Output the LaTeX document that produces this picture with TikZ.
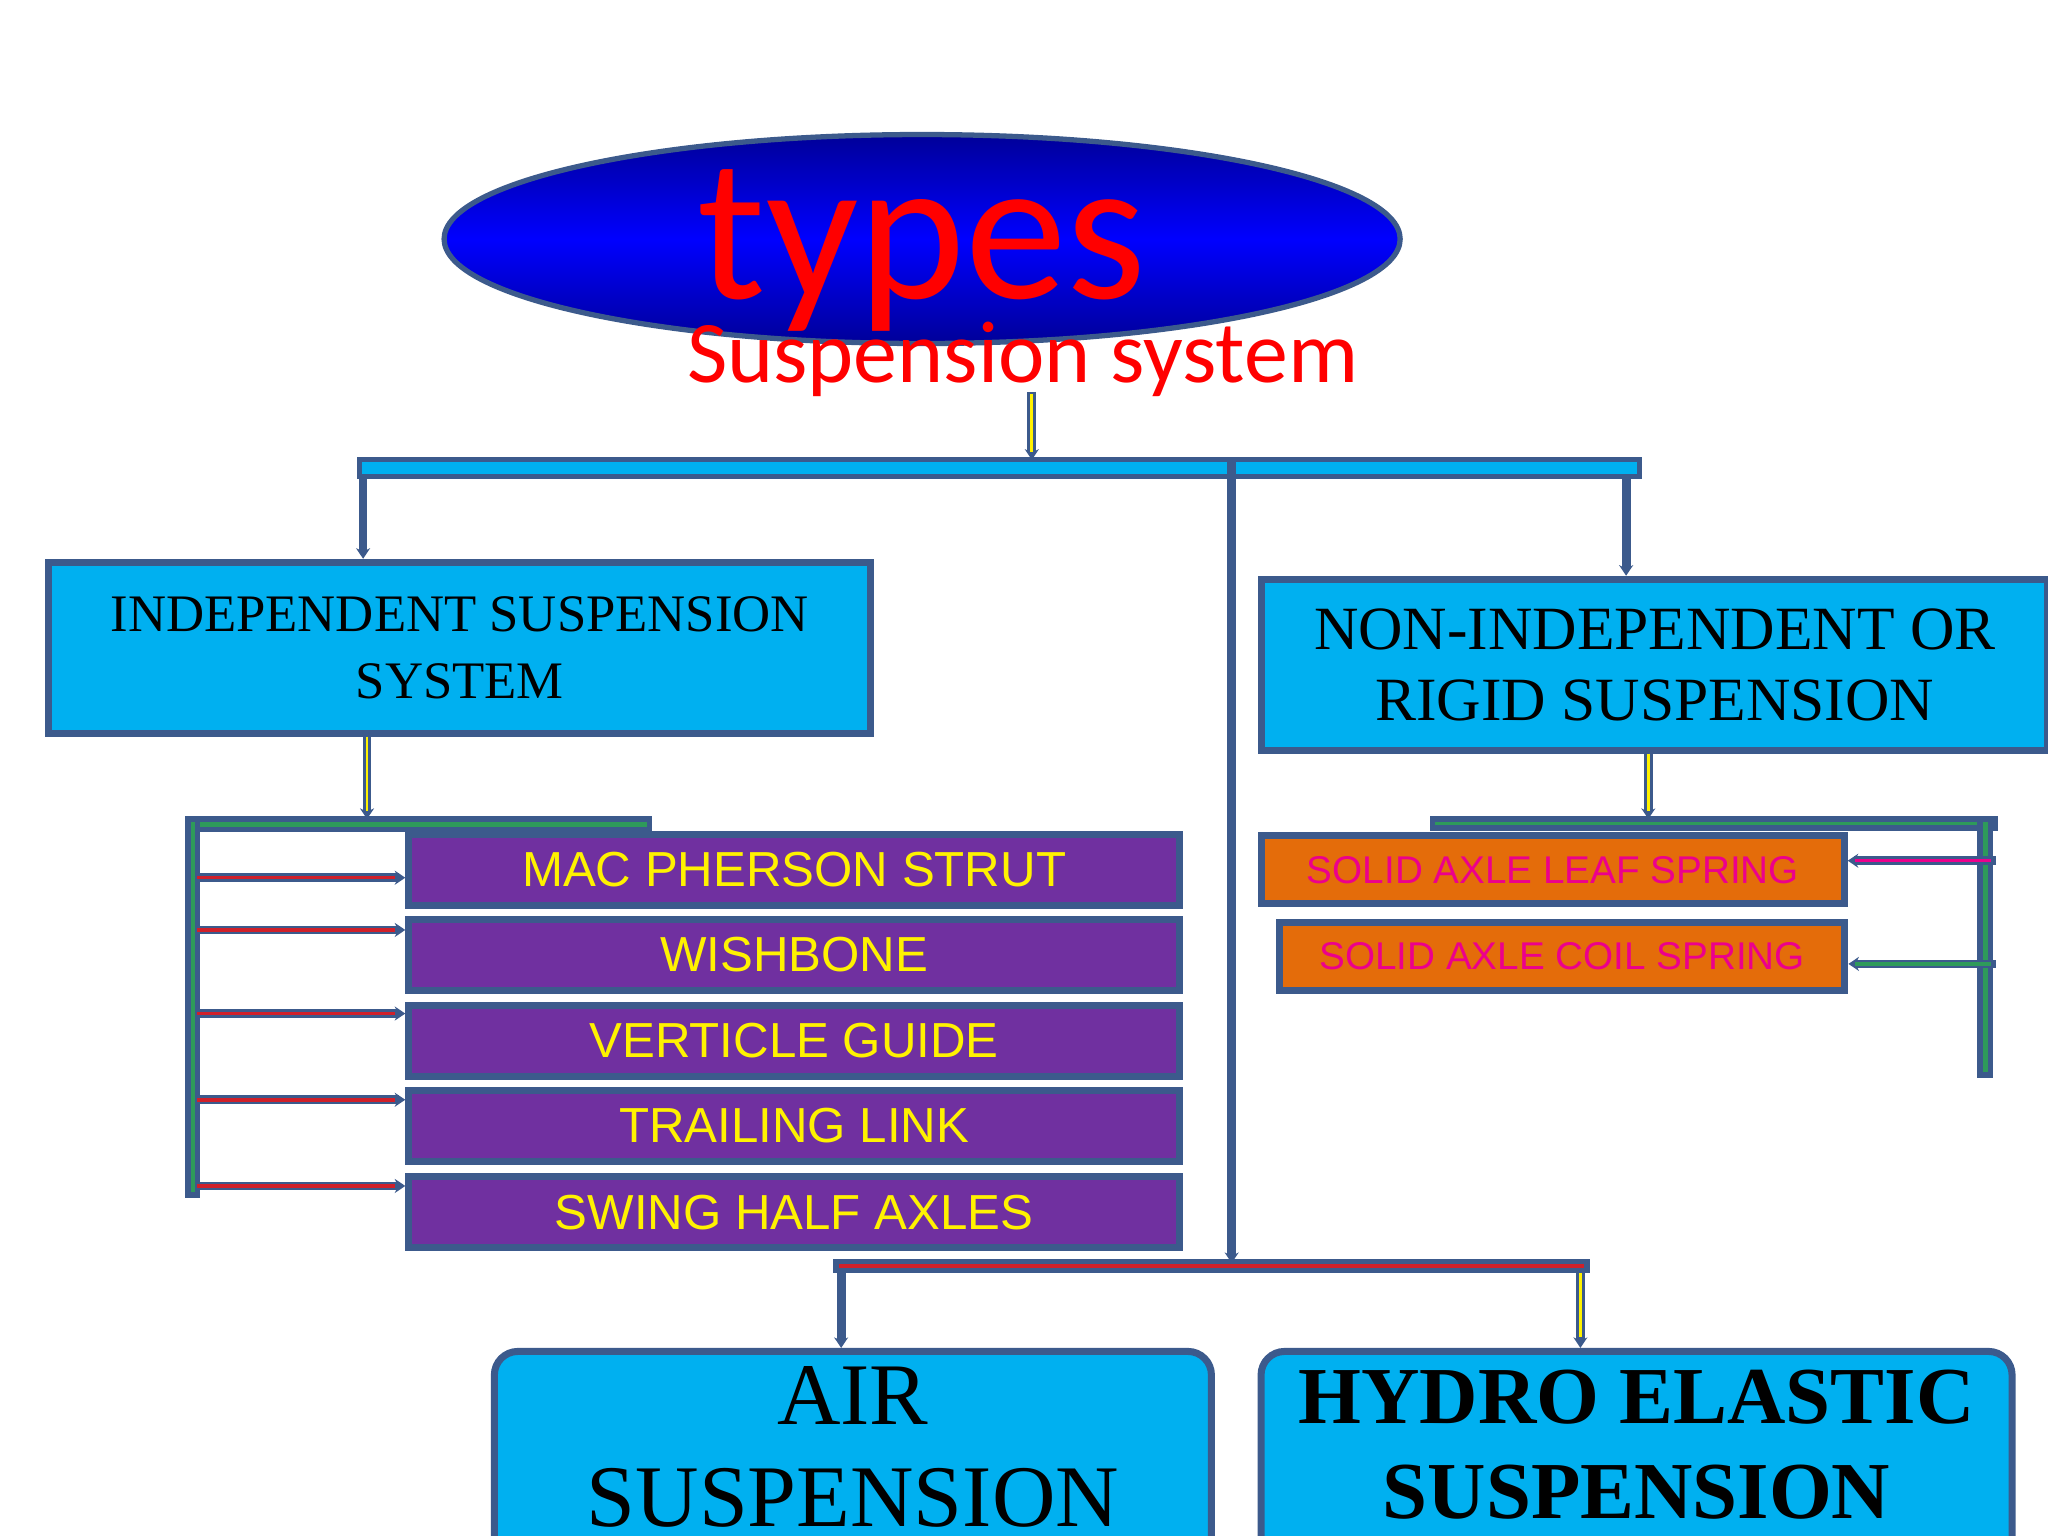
\documentclass[tikz,border=0pt]{standalone}
\usepackage{fontspec}
\setmainfont{Liberation Serif}
\newfontfamily\sansf{Liberation Sans}
\newfontfamily\calib{Carlito}
\usetikzlibrary{arrows,arrows.meta,calc,positioning,shapes.geometric}
\newcommand\pu{0.01306cm}
\definecolor{skyfill}{HTML}{00B0F0}
\definecolor{edgeblue}{HTML}{3C5A8C}
\definecolor{plum}{HTML}{7030A0}
\definecolor{amber}{HTML}{E46C0A}
\definecolor{linkgreen}{HTML}{2E9A5A}
\definecolor{linkred}{HTML}{D0202A}

\begin{document}
\begin{tikzpicture}
[
	              x = \pu, y = -\pu,
	           >= {Stealth[length=3pt,width=4pt]},
	    sky/.style = { draw=edgeblue, line width=2pt, fill=skyfill, align=center, inner sep=0pt },
	   plumbox/.style = { draw=edgeblue, line width=2pt, fill=plum, text=yellow, font=\sansf\fontsize{14}{16}\selectfont,
	                  minimum width=590*\pu, minimum height=54*\pu, inner sep=0pt },
	   amberbox/.style = { draw=edgeblue, line width=2pt, fill=amber, text=magenta, font=\sansf\fontsize{11}{13}\selectfont,
	                  minimum height=52*\pu, inner sep=0pt },
	   bar/.style = { draw=edgeblue, line width=1.5pt },
	   feed/.style = { ->, draw=edgeblue, line width=2.5pt }
]
	\useasboundingbox (0,0) rectangle (1568,1176);

	% title
	\node (ovl) at (706,183) [ellipse, draw=edgeblue, line width=1.5pt, minimum width=732*\pu, minimum height=160*\pu,
	      top color=blue!60!black, bottom color=blue!60!black, middle color=blue] {};
	\node (ttl) at (706,192) [text=red, font=\calib\fontsize{58}{58}\selectfont] {types};
	\node (sub) at (783,275) [text=red, font=\calib\fontsize{25}{27}\selectfont] {Suspension system};

	% main boxes
	\node (ind) at (352,496) [sky, minimum width=629*\pu, minimum height=131*\pu, font=\fontsize{15}{19}\selectfont]
	      {INDEPENDENT SUSPENSION\\SYSTEM};
	\node (rig) at (1267,509) [sky, minimum width=602*\pu, minimum height=131*\pu, font=\fontsize{17.5}{20}\selectfont]
	      {NON-INDEPENDENT OR\\RIGID SUSPENSION};
	\node (air) at (653,1032) [sky, rounded corners=18*\pu, minimum width=549*\pu, minimum height=160*\pu, anchor=north] {};
	\node (airt) at (653,1108) [font=\fontsize{25}{29}\selectfont, align=center] {AIR\\SUSPENSION};
	\node (hyd) at (1253,1032) [sky, rounded corners=18*\pu, minimum width=575*\pu, minimum height=160*\pu, anchor=north] {};
	\node (hydt) at (1253,1106) [font=\bfseries\fontsize{23}{27}\selectfont, align=center] {HYDRO ELASTIC\\SUSPENSION};

	% independent types
	\node (mac) at (608,666) [plumbox] {MAC PHERSON STRUT};
	\node (wsh) at (608,731) [plumbox] {WISHBONE};
	\node (vgd) at (608,797) [plumbox] {VERTICLE GUIDE};
	\node (trl) at (608,862) [plumbox] {TRAILING LINK};
	\node (swg) at (608,928) [plumbox] {SWING HALF AXLES};

	% rigid types
	\node (lea) at (1189,666) [amberbox, minimum width=446*\pu] {SOLID AXLE LEAF SPRING};
	\node (coi) at (1196,732) [amberbox, minimum width=433*\pu] {SOLID AXLE COIL SPRING};

	% top distribution bar
	\coordinate (tl) at (275,352);
	\coordinate (tr) at (1255,365);
	\draw [bar, fill=skyfill] (tl) rectangle (tr);
	\draw [feed] (790,300) -- (790,352);
	\draw [yellow, line width=0.8pt] (790,302) -- (790,346);
	\draw [feed] (278,365) -- (ind.north -| 278,0);
	\draw [feed] (1245,365) -- (rig.north -| 1245,0);
	\draw [feed] (943,352) -- (943,967);

	% bottom bar
	\draw [bar, fill=linkred] (640,966) rectangle (1215,973);
	\draw [feed] (644,973) -- (air.north -| 644,0);
	\draw [feed] (1210,973) -- (hyd.north -| 1210,0);
	\draw [yellow, line width=0.8pt] (1210,975) -- (1210,1024);

	% left tree
	\draw [feed] (281,562) -- (281,627);
	\draw [yellow, line width=0.8pt] (281,564) -- (281,621);
	\draw [bar, fill=linkgreen] (145,627) rectangle (497,635);
	\draw [bar, fill=linkgreen] (144,627) rectangle (151,915);
	\foreach \b/\yy in {mac/672, wsh/712, vgd/776, trl/842, swg/908}
	{
		\draw [feed] (151,\yy) -- (\b.west |- 0,\yy);
		\draw [linkred, line width=1pt] (151,\yy) -- ($(\b.west |- 0,\yy)+(-8,0)$);
	}

	% right tree
	\draw [feed] (1262,575) -- (1262,627);
	\draw [yellow, line width=0.8pt] (1262,577) -- (1262,621);
	\draw [bar, fill=linkgreen] (1097,627) rectangle (1528,634);
	\draw [bar, fill=linkgreen] (1516,627) rectangle (1524,823);
	\draw [feed] (1528,659) -- (lea.east |- 0,659);
	\draw [magenta, line width=1pt] (1524,659) -- (1420,659);
	\draw [feed] (1528,738) -- (coi.east |- 0,738);
	\draw [linkgreen, line width=1pt] (1524,738) -- (1420,738);
\end{tikzpicture}
\end{document}
